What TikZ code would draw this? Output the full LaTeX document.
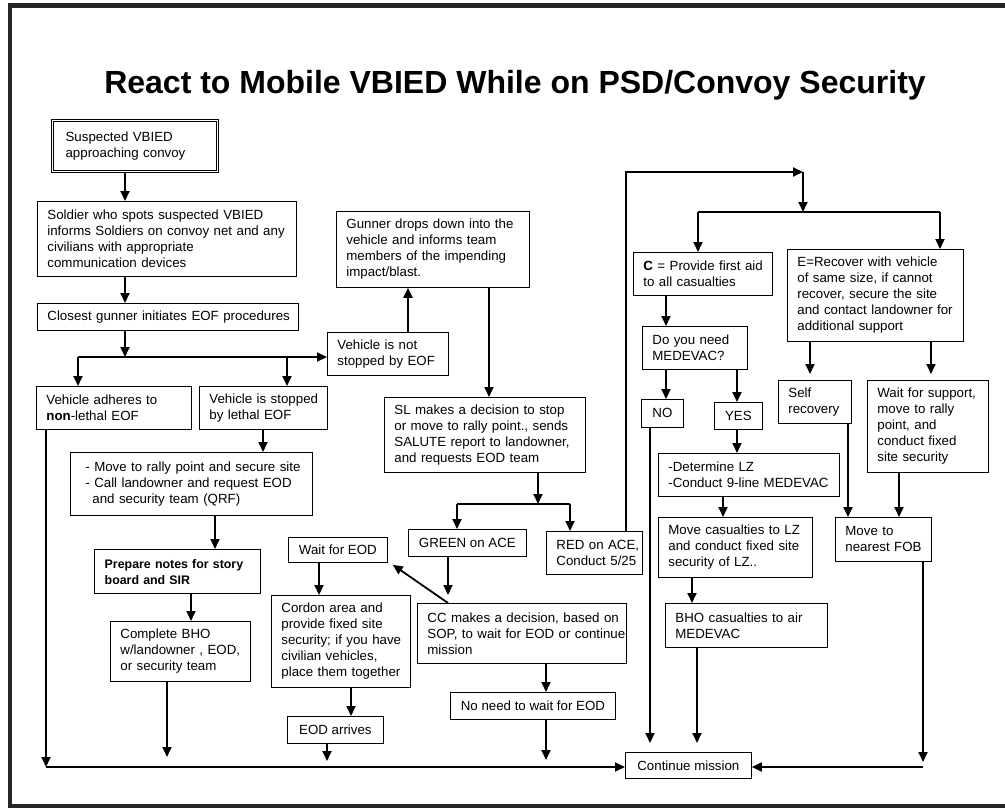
\documentclass[tikz,border=0pt]{standalone}
\usepackage{fontspec}
\setmainfont{Liberation Sans}
\usetikzlibrary{arrows.meta}
\newcommand\boxfont{\fontsize{13.3}{16}\selectfont}
\tikzset{
  box/.style={draw, line width=0.8pt, anchor=north west, inner xsep=0pt, inner ysep=1pt,
    align=left, font=\boxfont, execute at begin node={\leftskip=10pt}},
  cbox/.style={draw, line width=0.8pt, anchor=north west, inner sep=1pt, font=\boxfont},
  arr/.style={line width=1.8pt, -{Triangle[length=10pt,width=9pt]}},
  link/.style={line width=1.8pt},
  frame/.style={line width=4.5pt, black!85},
}
\begin{document}
\begin{tikzpicture}[x=1pt, y=-1pt]
  \useasboundingbox (0,0) rectangle (1005,808);
  \draw[frame] (1005,5.5) -| (10,806) -- (1005,806);
  \node[font=\fontsize{32}{38}\selectfont\bfseries, anchor=base] (title) at (515,93) {React to Mobile VBIED While on PSD/Convoy Security};

  \node[box, double, line width=1.2pt, double distance=1.2pt, text width=165pt, minimum height=51pt,
    execute at begin node={\leftskip=13pt}] (sus) at (52,120) {Suspected VBIED\\approaching convoy};
  \node[box, text width=259pt, minimum height=75pt] (sol) at (37,201) {Soldier who spots suspected VBIED\\informs Soldiers on convoy net and any\\civilians with appropriate\\communication devices};
  \node[box, text width=261pt, minimum height=27pt] (cg) at (37,303) {Closest gunner initiates EOF procedures};
  \node[box, text width=155pt, minimum height=43pt] (adh) at (36,386) {Vehicle adheres to\\{\bfseries non}-lethal EOF};
  \node[box, text width=128pt, minimum height=43pt] (stp) at (199,386) {Vehicle is stopped\\by lethal EOF};
  \node[box, text width=242pt, minimum height=63pt, execute at begin node={\leftskip=15pt}] (mov) at (70,452) {- Move to rally point and secure site\\- Call landowner and request EOD\\\hspace*{7pt}and security team (QRF)};
  \node[box, line width=1.4pt, text width=166pt, minimum height=44pt, font=\fontsize{12.4}{16}\selectfont\bfseries] (prep) at (94,549) {Prepare notes for story\\board and SIR};
  \node[box, text width=140pt, minimum height=60pt] (cmp) at (110,621) {Complete BHO\\w/landowner , EOD,\\or security team};
  \node[box, text width=193pt, minimum height=76pt] (gun) at (336,211) {Gunner drops down into the\\vehicle and informs team\\members of the impending\\impact/blast.};
  \node[box, text width=121pt, minimum height=43pt] (nst) at (327,332) {Vehicle is not\\stopped by EOF};
  \node[box, text width=201pt, minimum height=75pt] (sl) at (384,397) {SL makes a decision to stop\\or move to rally point., sends\\SALUTE report to landowner,\\and requests EOD team};
  \node[cbox, minimum width=118pt, minimum height=27pt] (grn) at (408,529) {GREEN on ACE};
  \node[box, text width=96pt, minimum height=43pt] (red) at (546,531) {RED on ACE,\\Conduct 5/25};
  \node[cbox, minimum width=99pt, minimum height=25pt] (wait) at (288,537) {Wait for EOD};
  \node[box, text width=139pt, minimum height=92pt] (cord) at (271,595) {Cordon area and\\provide fixed site\\security; if you have\\civilian vehicles,\\place them together};
  \node[cbox, minimum width=96pt, minimum height=27pt] (eoda) at (287,716) {EOD arrives};
  \node[box, text width=209pt, minimum height=60pt] (cc) at (417,603) {CC makes a decision, based on\\SOP, to wait for EOD or continue\\mission};
  \node[cbox, minimum width=165pt, minimum height=27pt] (nneed) at (450,692) {No need to wait for EOD};
  \node[cbox, minimum width=126pt, minimum height=26pt] (cont) at (625,752) {Continue mission};
  \node[box, text width=139pt, minimum height=43pt] (cfa) at (633,252) {{\bfseries C} = Provide first aid\\to all casualties};
  \node[box, text width=105pt, minimum height=43pt] (med) at (642,326) {Do you need\\MEDEVAC?};
  \node[cbox, minimum width=42pt, minimum height=28pt] (no) at (641,399) {NO};
  \node[cbox, minimum width=48pt, minimum height=27pt] (yes) at (714,402) {YES};
  \node[box, text width=181pt, minimum height=43pt] (det) at (658,453) {-Determine LZ\\-Conduct 9-line MEDEVAC};
  \node[box, text width=154pt, minimum height=60pt] (mcas) at (658,517) {Move casualties to LZ\\and conduct fixed site\\security of LZ..};
  \node[box, text width=162pt, minimum height=44pt] (bho) at (665,603) {BHO casualties to air\\MEDEVAC};
  \node[box, text width=176pt, minimum height=92pt] (rec) at (787,249) {E=Recover with vehicle\\of same size, if cannot\\recover, secure the site\\and contact landowner for\\additional support};
  \node[box, text width=73pt, minimum height=43pt] (self) at (778,380) {Self\\recovery};
  \node[box, text width=121pt, minimum height=92pt] (wsup) at (867,380) {Wait for support,\\move to rally\\point, and\\conduct fixed\\site security};
  \node[box, text width=96pt, minimum height=44pt] (fob) at (835,517) {Move to\\nearest FOB};

  \draw[arr] (sus.south -| 125,0) -- (sol.north -| 125,0);
  \draw[arr] (sol.south -| 125,0) -- (cg.north -| 125,0);
  \coordinate (split) at (125,357);
  \coordinate (splitl) at (78,357);
  \coordinate (splitm) at (287,357);
  \draw[arr] (cg.south -| split) -- (split);
  \draw[arr] (splitl) -- (nst.west |- splitl);
  \draw[arr] (splitl) -- (adh.north -| splitl);
  \draw[arr] (splitm) -- (stp.north -| splitm);
  \draw[arr] (stp.south -| 263,0) -- (mov.north -| 263,0);
  \draw[arr] (mov.south -| 215,0) -- (prep.north -| 215,0);
  \draw[arr] (prep.south -| 191,0) -- (cmp.north -| 191,0);
  \coordinate (endcmp) at (167,757);
  \draw[arr] (cmp.south -| endcmp) -- (endcmp);
  \coordinate (botl) at (46,767);
  \draw[arr] (adh.south -| botl) -- (botl);
  \draw[arr] (botl) -- (cont.west |- botl);

  \draw[arr] (nst.north -| 408,0) -- (gun.south -| 408,0);
  \draw[arr] (gun.south -| 489,0) -- (sl.north -| 489,0);
  \coordinate (slsplit) at (538,504);
  \coordinate (slg) at (457,504);
  \coordinate (slr) at (570,504);
  \draw[arr] (sl.south -| slsplit) -- (slsplit);
  \draw[link] (slg) -- (slr);
  \draw[arr] (slg) -- (grn.north -| slg);
  \draw[arr] (slr) -- (red.north -| slr);
  \draw[arr, shorten >=8pt] (grn.south -| 448,0) -- (cc.north -| 448,0);
  \draw[arr] (cc.north -| 448,0) -- ([shift={(5,2)}]wait.south east);
  \draw[arr] (wait.south -| 319,0) -- (cord.north -| 319,0);
  \draw[arr] (cord.south -| 351,0) -- (eoda.north -| 351,0);
  \coordinate (endeod) at (327,761);
  \draw[arr] (eoda.south -| endeod) -- (endeod);
  \draw[arr] (cc.south -| 546,0) -- (nneed.north -| 546,0);
  \coordinate (endnn) at (546,760);
  \draw[arr] (nneed.south -| endnn) -- (endnn);

  \coordinate (topl) at (626,172);
  \coordinate (topr) at (803,172);
  \coordinate (rsplit) at (803,212);
  \coordinate (rsc) at (698,212);
  \coordinate (rse) at (940,212);
  \draw[arr] (red.north -| topl) -- (topl) -- (topr);
  \draw[arr] (topr) -- (rsplit);
  \draw[link] (rsc) -- (rse);
  \draw[arr] (rsc) -- (cfa.north -| rsc);
  \draw[arr] (rse) -- (rec.north -| rse);
  \draw[arr] (cfa.south -| 666,0) -- (med.north -| 666,0);
  \draw[arr] (med.south -| 666,0) -- (no.north -| 666,0);
  \draw[arr] (med.south -| 737,0) -- (yes.north -| 737,0);
  \coordinate (endno) at (650,743);
  \draw[arr] (no.south -| endno) -- (endno);
  \draw[arr] (yes.south -| 737,0) -- (det.north -| 737,0);
  \draw[arr] (det.south -| 723,0) -- (mcas.north -| 723,0);
  \draw[arr] (mcas.south -| 692,0) -- (bho.north -| 692,0);
  \coordinate (endbho) at (697,743);
  \draw[arr] (bho.south -| endbho) -- (endbho);
  \draw[arr, shorten >=6pt] (rec.south -| 810,0) -- (self.north -| 810,0);
  \draw[arr, shorten >=6pt] (rec.south -| 931,0) -- (wsup.north -| 931,0);
  \draw[arr] (self.south -| 848,0) -- (fob.north -| 848,0);
  \draw[arr] (wsup.south -| 899,0) -- (fob.north -| 899,0);
  \coordinate (endfob) at (923,762);
  \coordinate (botr) at (923,767);
  \draw[arr] (fob.south -| endfob) -- (endfob);
  \draw[arr] (botr) -- (cont.east |- botr);
\end{tikzpicture}
\end{document}
